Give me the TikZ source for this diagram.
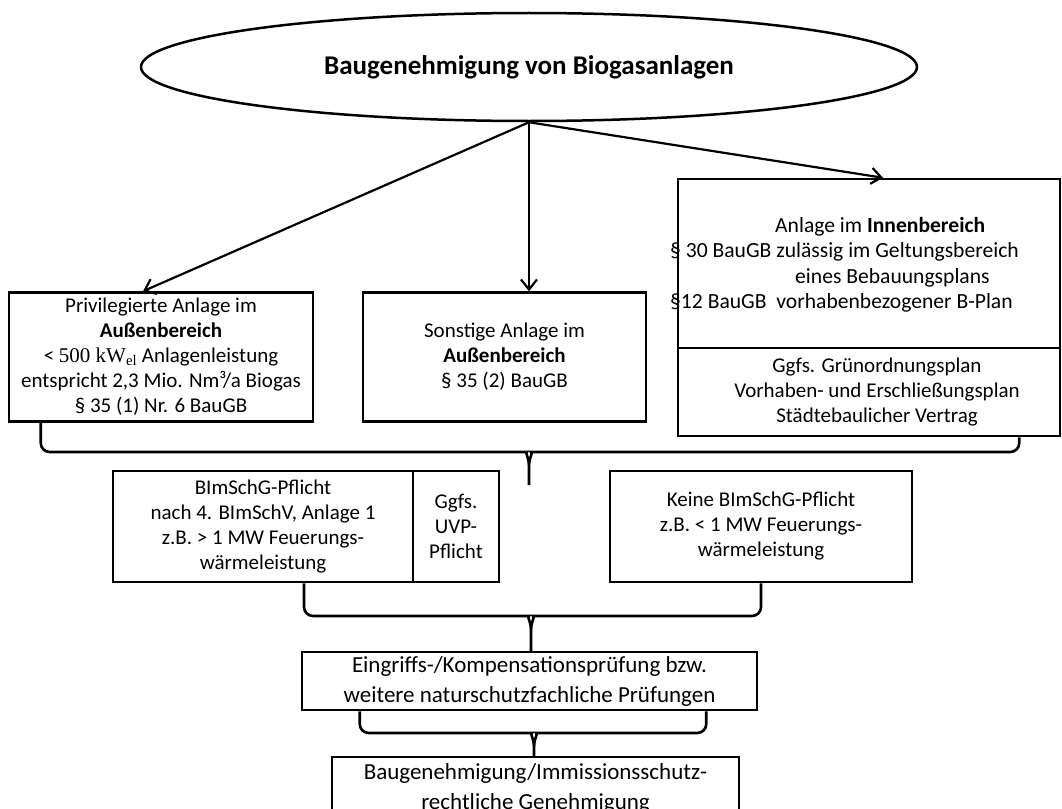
\documentclass[tikz,border=0pt]{standalone}
\usepackage{fontspec}
\setmainfont{Carlito}
\newfontfamily\timesfont{Liberation Serif}
\usetikzlibrary{shapes.geometric,arrows.meta}

\tikzset{
  box/.style={draw,line width=2.5pt,inner sep=0pt,align=center,font=\fontsize{21}{25}\selectfont},
  bigbox/.style={box,font=\fontsize{23}{30}\selectfont},
  txt/.style={inner sep=0pt,font=\fontsize{21.6}{25.5}\selectfont},
  link/.style={line width=2.6pt},
  arr/.style={line width=2.2pt,->},
}
\newcommand{\joinbrace}[4]{%
  \draw [link,rounded corners=9pt] (#1) |- ([xshift=-11pt]#3) [sharp corners] to[out=0,in=90] ([yshift=-13pt]#3) -- (#4);
  \draw [link,rounded corners=9pt] (#2) |- ([xshift=11pt]#3) [sharp corners] to[out=180,in=90] ([yshift=-13pt]#3);
}

\begin{document}
\begin{tikzpicture}[x=1pt,y=-1pt,>={Straight Barb[length=10pt,width=16pt]}]
    \useasboundingbox [fill=white] (0,0) rectangle (1062,808);
    \clip (0,0) rectangle (1062,808);

    \node [ellipse,draw,line width=2.5pt,minimum width=776pt,minimum height=108pt,
           font=\fontsize{27}{32}\selectfont\bfseries] (title) at (529,67) {Baugenehmigung von Biogasanlagen};

    \node [box,minimum width=304pt,minimum height=129pt] (priv) at (161,357) {Privilegierte Anlage im\\\textbf{Außenbereich}\\< {\timesfont 500 kW\textsubscript{el}} Anlagenleistung\\entspricht 2,3 Mio. Nm³/a Biogas\\§ 35 (1) Nr. 6 BauGB};
    \node [box,minimum width=283pt,minimum height=129pt] (sonst) at (504.5,357) {Sonstige Anlage im\\\textbf{Außenbereich}\\§ 35 (2) BauGB};
    \node [box,minimum width=382pt,minimum height=169pt] (innen) at (869,263.5) {};
    \node [txt,anchor=west,align=left] (innentxt) at (670,265) {\hspace*{105pt}Anlage im \textbf{Innenbereich}\\§ 30 BauGB zulässig im Geltungsbereich\\\hspace*{125pt}eines Bebauungsplans\\§12 BauGB\ \ vorhabenbezogener B-Plan};
    \node [box,minimum width=382pt,minimum height=88pt] (plan) at (869,392) {\hspace*{16pt}Ggfs. Grünordnungsplan\\\hspace*{16pt}Vorhaben- und Erschließungsplan\\\hspace*{16pt}Städtebaulicher Vertrag};

    \node [box,minimum width=300pt,minimum height=111pt] (pflicht) at (263,526.5) {BImSchG-Pflicht\\nach 4. BImSchV, Anlage 1\\z.B. > 1 MW Feuerungs-\\wärmeleistung};
    \node [box,minimum width=86pt,minimum height=111pt] (uvp) at (456,526.5) {Ggfs.\\UVP-\\Pflicht};
    \node [box,minimum width=302pt,minimum height=111pt] (keine) at (761,526.5) {Keine BImSchG-Pflicht\\z.B. < 1 MW Feuerungs-\\wärmeleistung};

    \node [bigbox,minimum width=455pt,minimum height=58pt] (eingriff) at (529.5,681) {Eingriffs-/Kompensationsprüfung bzw.\\weitere naturschutzfachliche Prüfungen};
    \node [bigbox,minimum width=407pt,minimum height=62pt] (genehm) at (535.5,788) {Baugenehmigung/Immissionsschutz-\\rechtliche Genehmigung};

    \draw [arr] (title.south) -- ([xshift=-18pt]priv.north);
    \draw [arr] (title.south) -- (title.south |- sonst.north);
    \draw [arr] (title.south) -- ([xshift=14pt]innen.north);

    \coordinate (k1) at (529,452);
    \coordinate (t1) at (529,485);
    \coordinate (k2) at (531,616);
    \coordinate (k3) at (534,733);
    \joinbrace{[xshift=33pt]priv.south west}{[xshift=-42pt]plan.south east}{k1}{t1}
    \joinbrace{[xshift=41pt]pflicht.south}{keine.south}{k2}{k2 |- eingriff.north}
    \joinbrace{[xshift=59pt]eingriff.south west}{[xshift=-52pt]eingriff.south east}{k3}{k3 |- genehm.north}
\end{tikzpicture}
\end{document}
